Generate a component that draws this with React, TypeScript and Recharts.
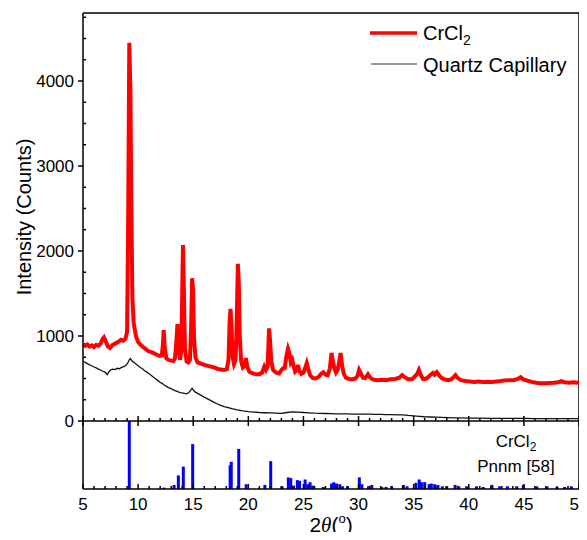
import { ComposedChart, Line, Bar, XAxis, YAxis, Legend, ReferenceLine } from 'recharts'

// CrCl2 powder pattern (red)
const redX = [5.0, 5.2, 5.4, 5.6, 5.8, 6.0, 6.2, 6.4, 6.6, 6.75, 6.9, 7.05, 7.25, 7.45, 7.65, 7.85, 8.05, 8.25, 8.45, 8.65, 8.85, 9.0, 9.1, 9.2, 9.3, 9.38, 9.48, 9.6, 9.8, 10.0, 10.2, 10.45, 10.7, 10.95, 11.2, 11.45, 11.7, 11.95, 12.15, 12.25, 12.32, 12.42, 12.55, 12.75, 13.0, 13.2, 13.35, 13.48, 13.57, 13.68, 13.8, 13.92, 14.0, 14.07, 14.15, 14.25, 14.4, 14.55, 14.7, 14.8, 14.9, 14.98, 15.08, 15.2, 15.4, 15.7, 16.0, 16.3, 16.6, 16.9, 17.2, 17.5, 17.8, 18.05, 18.2, 18.3, 18.38, 18.48, 18.58, 18.7, 18.85, 18.95, 19.05, 19.13, 19.22, 19.35, 19.5, 19.65, 19.78, 19.9, 20.1, 20.4, 20.7, 21.0, 21.25, 21.45, 21.6, 21.75, 21.88, 21.97, 22.08, 22.25, 22.5, 22.8, 23.0, 23.15, 23.3, 23.45, 23.6, 23.72, 23.85, 23.98, 24.1, 24.25, 24.4, 24.5, 24.62, 24.8, 25.0, 25.15, 25.3, 25.42, 25.6, 25.85, 26.1, 26.4, 26.6, 26.8, 27.0, 27.2, 27.4, 27.55, 27.68, 27.8, 27.95, 28.1, 28.25, 28.37, 28.5, 28.65, 28.85, 29.1, 29.4, 29.7, 29.9, 30.05, 30.2, 30.4, 30.6, 30.85, 31.05, 31.3, 31.7, 32.1, 32.5, 32.9, 33.3, 33.7, 33.95, 34.2, 34.5, 34.9, 35.15, 35.35, 35.48, 35.65, 35.85, 36.1, 36.35, 36.55, 36.75, 36.9, 37.1, 37.3, 37.55, 37.8, 38.1, 38.4, 38.65, 38.8, 39.0, 39.3, 39.7, 40.1, 40.5, 40.9, 41.3, 41.7, 42.1, 42.5, 42.9, 43.3, 43.7, 44.1, 44.45, 44.7, 44.95, 45.3, 45.7, 46.1, 46.5, 46.9, 47.3, 47.7, 48.1, 48.4, 48.7, 49.1, 49.5, 49.8, 50.0]
const redY = [905, 885, 900, 875, 890, 870, 895, 885, 910, 960, 985, 940, 880, 860, 890, 905, 920, 935, 955, 945, 965, 1050, 2400, 4450, 3900, 2600, 1450, 1150, 1000, 930, 900, 870, 845, 820, 810, 795, 780, 765, 770, 900, 1070, 860, 740, 720, 710, 705, 740, 950, 1140, 880, 720, 820, 1500, 2070, 1550, 850, 700, 690, 720, 1050, 1680, 1550, 950, 750, 690, 675, 660, 650, 640, 630, 615, 605, 600, 610, 720, 1150, 1320, 1100, 750, 670, 720, 1200, 1850, 1650, 1000, 700, 630, 650, 740, 640, 580, 560, 550, 550, 570, 640, 600, 640, 1090, 950, 700, 600, 570, 560, 600, 620, 620, 760, 850, 800, 690, 720, 650, 580, 600, 660, 590, 555, 570, 620, 680, 620, 540, 505, 500, 520, 555, 575, 545, 540, 620, 800, 700, 620, 570, 600, 700, 800, 660, 560, 510, 495, 490, 500, 530, 600, 560, 510, 505, 550, 510, 490, 480, 485, 480, 490, 495, 510, 540, 515, 490, 495, 530, 560, 600, 540, 495, 495, 520, 545, 565, 545, 575, 540, 505, 490, 480, 490, 520, 540, 505, 480, 470, 465, 460, 465, 458, 462, 458, 465, 470, 478, 480, 482, 495, 515, 490, 475, 460, 450, 445, 443, 447, 450, 455, 470, 455, 450, 455, 450, 452]

// empty quartz capillary (black)
const capX = [5.0, 5.2, 5.4, 5.6, 5.8, 6.0, 6.2, 6.4, 6.6, 6.8, 7.0, 7.2, 7.35, 7.5, 7.7, 7.9, 8.1, 8.3, 8.5, 8.7, 8.9, 9.05, 9.2, 9.3, 9.45, 9.6, 9.8, 10.0, 10.2, 10.4, 10.6, 10.8, 11.0, 11.2, 11.4, 11.6, 11.8, 12.0, 12.2, 12.4, 12.6, 12.8, 13.0, 13.2, 13.4, 13.6, 13.8, 14.0, 14.2, 14.4, 14.6, 14.8, 14.9, 15.05, 15.2, 15.4, 15.6, 15.8, 16.0, 16.3, 16.6, 16.9, 17.2, 17.5, 17.8, 18.1, 18.5, 19.0, 19.5, 20.0, 20.5, 21.0, 21.5, 22.0, 22.5, 23.0, 23.5, 24.0, 24.5, 25.0, 25.5, 26.0, 26.5, 27.0, 27.5, 28.0, 28.5, 29.0, 29.5, 30.0, 30.5, 31.0, 31.5, 32.0, 32.5, 33.0, 33.5, 34.0, 34.5, 35.0, 35.5, 36.0, 36.5, 37.0, 37.5, 38.0, 39.0, 40.0, 41.0, 42.0, 43.0, 44.0, 45.0, 46.0, 47.0, 48.0, 49.0, 50.0]
const capY = [700, 690, 675, 660, 650, 635, 625, 610, 600, 585, 575, 545, 580, 600, 610, 605, 620, 615, 630, 640, 655, 680, 720, 735, 705, 690, 670, 650, 630, 615, 590, 575, 555, 535, 515, 495, 475, 455, 440, 420, 405, 390, 380, 365, 355, 345, 335, 330, 325, 320, 335, 370, 385, 355, 340, 325, 310, 295, 280, 260, 240, 220, 200, 185, 170, 160, 145, 130, 118, 110, 105, 100, 97, 95, 92, 90, 100, 108, 104, 100, 96, 92, 90, 88, 86, 85, 84, 83, 82, 82, 80, 80, 78, 78, 76, 75, 73, 72, 65, 60, 55, 50, 47, 45, 42, 40, 37, 35, 34, 32, 30, 30, 30, 29, 28, 28, 28, 28]

// reference reflections, Pnnm [58] (blue sticks, % of strongest)
const refPos = [9.2, 12.35, 13.26, 13.65, 14.1, 14.95, 18.35, 18.45, 19.13, 19.8, 21.5, 22.03, 23.06, 23.63, 23.85, 24.1, 24.45, 24.65, 25.15, 25.4, 25.6, 25.85, 26.8, 27.55, 27.75, 28.0, 28.3, 28.55, 29.0, 30.07, 30.3, 30.9, 31.2, 32.1, 32.5, 33.0, 34.07, 34.4, 35.2, 35.5, 35.7, 36.0, 36.4, 36.6, 36.9, 37.2, 37.6, 38.0, 38.76, 39.1, 39.8, 40.7, 41.3, 42.1, 42.8, 43.5, 44.35, 44.95, 46.17, 47.1, 48.0, 48.7, 49.3]
const refInt = [100, 2, 6, 20, 33, 66, 35, 40, 59, 7, 6, 41, 4, 17, 16, 5, 13, 12, 14, 7, 10, 5, 3, 8, 10, 8, 7, 4, 4, 17, 7, 4, 6, 3, 3, 4, 6, 4, 9, 14, 10, 10, 7, 8, 7, 6, 4, 4, 6, 4, 4, 4, 3, 6, 4, 4, 4, 6, 4, 4, 3, 3, 4]

const xTicks = [5, 6, 7, 8, 9, 10, 11, 12, 13, 14, 15, 16, 17, 18, 19, 20, 21, 22, 23, 24, 25, 26, 27, 28, 29, 30, 31, 32, 33, 34, 35, 36, 37, 38, 39, 40, 41, 42, 43, 44, 45, 46, 47, 48, 49, 50]
const yTicks = [0, 250, 500, 750, 1000, 1250, 1500, 1750, 2000, 2250, 2500, 2750, 3000, 3250, 3500, 3750, 4000, 4250, 4500, 4750]

const crcl2 = redX.map((x, i) => ({ x, y: redY[i] }))
const capillary = capX.map((x, i) => ({ x, y: capY[i] }))
const sticks = refPos.map((x, i) => ({ x, v: refInt[i] }))

const FONT = 'Liberation Sans, Arial, sans-serif'
const AX = { stroke: '#000', strokeWidth: 1.5 }

const MidTick = (p: any) => {
  const { x, y, payload } = p
  const major = payload.value % 5 === 0
  return <path d={`M${x},${major ? y - 5 : y - 3}L${x},${major ? y + 5 : y}`} stroke="#000" strokeWidth={1.5} />
}

const BottomTick = (p: any) => {
  const { x, y, payload } = p
  const major = payload.value % 5 === 0
  return (
    <g>
      <path d={`M${x},${major ? y - 5 : y - 3}L${x},${y}`} stroke="#000" strokeWidth={1.5} />
      {major && (
        <text x={x} y={y + 21} textAnchor="middle" fontSize={17} fontFamily={FONT} fill="#000">
          {payload.value}
        </text>
      )}
    </g>
  )
}

const LeftTick = (p: any) => {
  const { x, y, payload } = p
  const major = payload.value % 1000 === 0
  return (
    <g>
      <path d={major ? `M${x - 5},${y}L${x},${y}` : `M${x},${y}L${x + 3},${y}`} stroke="#000" strokeWidth={1.5} />
      {major && (
        <text x={x - 9} y={y + 6} textAnchor="end" fontSize={17} fontFamily={FONT} fill="#000">
          {payload.value}
        </text>
      )}
    </g>
  )
}

// thin stick centred on the bar slot
const Stick = (p: any) => {
  const { x, y, width, height } = p
  if (!height) return null
  return <rect x={x + width / 2 - 1.5} y={y} width={3} height={height} fill="#0000ff" />
}

const LegendBox = () => (
  <svg width={220} height={64} style={{ display: 'block' }}>
    <line x1={6} x2={53} y1={15} y2={15} stroke="#ff0000" strokeWidth={3.5} />
    <text x={59} y={22} fontSize={20} fontFamily={FONT} fill="#000">
      CrCl<tspan fontSize={14} dy={5}>2</tspan>
    </text>
    <line x1={7} x2={53} y1={46} y2={46} stroke="#333" strokeWidth={1} />
    <text x={59} y={54} fontSize={20} fontFamily={FONT} fill="#000">
      Quartz Capillary
    </text>
  </svg>
)

const YLabel = (p: any) => {
  const vb = p.viewBox
  const cx = vb.x + 31
  const cy = vb.y + vb.height / 2
  return (
    <text x={cx} y={cy} transform={`rotate(-90 ${cx} ${cy})`} textAnchor="middle" fontSize={20} fontFamily={FONT} fill="#000">
      Intensity (Counts)
    </text>
  )
}

const XLabel = (p: any) => {
  const vb = p.viewBox
  const cx = vb.x + vb.width / 2
  const cy = vb.y + 43
  return (
    <text x={cx} y={cy} textAnchor="middle" fontSize={21} fontFamily={FONT} fill="#000">
      2<tspan fontFamily="Liberation Serif, serif" fontStyle="italic">θ</tspan>(<tspan fontSize={13} dy={-9}>o</tspan><tspan dy={9}>)</tspan>
    </text>
  )
}

export default function App() {
  return (
    <div style={{ position: 'relative', width: 587, height: 540, margin: -8, overflow: 'hidden' }}>
      <div style={{ position: 'absolute', left: 0, top: 0 }}>
        <ComposedChart width={587} height={430} margin={{ top: 13, right: 8, bottom: 0, left: 0 }}>
          <XAxis dataKey="x" type="number" domain={[5, 50]} ticks={xTicks} interval={0} height={9}
            tickSize={0} tickMargin={0} tick={MidTick} axisLine={AX} tickLine={false} allowDataOverflow />
          <YAxis type="number" domain={[0, 4800]} ticks={yTicks} interval={0} width={83}
            tickSize={0} tickMargin={0} tick={LeftTick} axisLine={AX} tickLine={false} allowDataOverflow
            label={{ content: YLabel }} />
          <ReferenceLine y={4800} stroke="#000" strokeWidth={1.5} />
          <ReferenceLine x={50} stroke="#000" strokeWidth={1.5} />
          <Legend layout="vertical" align="center" verticalAlign="middle" content={LegendBox}
            wrapperStyle={{ position: 'absolute', left: 364, top: 18, width: 220 }} />
          <Line data={capillary} dataKey="y" name="Quartz Capillary" type="linear" stroke="#111" strokeWidth={1.3}
            dot={false} isAnimationActive={false} />
          <Line data={crcl2} dataKey="y" name="CrCl2" type="linear" stroke="#ff0000" strokeWidth={4}
            dot={false} isAnimationActive={false} />
        </ComposedChart>
      </div>
      <div style={{ position: 'absolute', left: 0, top: 415 }}>
        <ComposedChart width={600} height={125} data={sticks} margin={{ top: 6, right: 21, bottom: 0, left: 0 }}>
          <XAxis dataKey="x" type="number" domain={[5, 50]} ticks={xTicks} interval={0} height={51}
            tickSize={0} tickMargin={0} tick={BottomTick} axisLine={AX} tickLine={false}
            label={{ content: XLabel }} />
          <YAxis type="number" domain={[0, 100]} width={83} tick={false} axisLine={AX} />
          <ReferenceLine x={50} stroke="#000" strokeWidth={1.5} />
          <Bar dataKey="v" fill="#0000ff" shape={Stick} isAnimationActive={false} />
          <text x={516} y={32} textAnchor="middle" fontSize={17} fontFamily={FONT} fill="#000">
            CrCl<tspan fontSize={12} dy={4}>2</tspan>
          </text>
          <text x={516} y={57} textAnchor="middle" fontSize={17} fontFamily={FONT} fill="#000">
            Pnnm [58]
          </text>
        </ComposedChart>
      </div>
    </div>
  )
}
